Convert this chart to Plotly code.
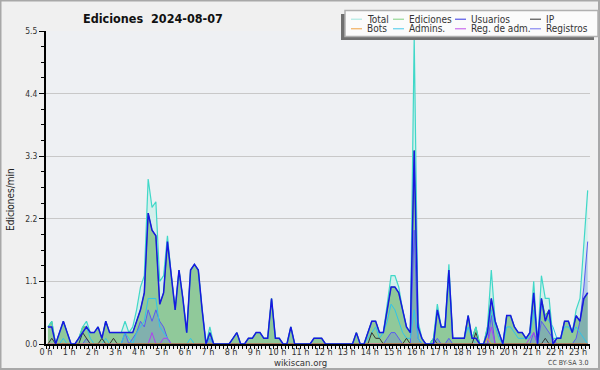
import plotly.graph_objects as go

# ---- data (edits per minute, 10-minute bins, 2024-08-07) ----
hour_labels = [f"{h} h" for h in range(24)]
y_tick_vals = [0, 1.1, 2.2, 3.3, 4.4, 5.5]
y_tick_text = ["0.0", "1.1", "2.2", "3.3", "4.4", "5.5"]

total = [
    0.3, 0.4, 0.0, 0.2, 0.4, 0.2, 0.0, 0.0, 0.1, 0.3,
    0.4, 0.2, 0.2, 0.3, 0.1, 0.4, 0.2, 0.2, 0.2, 0.2,
    0.4, 0.2, 0.3, 0.6, 1.0, 1.2, 2.9, 2.4, 2.5, 1.1,
    1.2, 1.9, 1.2, 0.6, 1.3, 0.8, 0.2, 1.3, 1.4, 1.3,
    0.6, 0.0, 0.3, 0.0, 0.0, 0.0, 0.0, 0.0, 0.1, 0.2,
    0.0, 0.0, 0.1, 0.1, 0.2, 0.2, 0.1, 0.1, 0.8, 0.1,
    0.1, 0.0, 0.0, 0.3, 0.0, 0.0, 0.0, 0.0, 0.0, 0.1,
    0.1, 0.1, 0.0, 0.0, 0.0, 0.0, 0.0, 0.0, 0.0, 0.0,
    0.2, 0.0, 0.0, 0.2, 0.4, 0.4, 0.2, 0.2, 0.7, 1.2,
    1.2, 1.0, 0.6, 0.3, 0.2, 5.4, 0.4, 0.1, 0.0, 0.0,
    0.1, 0.7, 0.3, 0.3, 1.4, 0.1, 0.1, 0.1, 0.1, 0.5,
    0.1, 0.3, 0.0, 0.0, 0.3, 1.3, 0.4, 0.2, 0.0, 0.5,
    0.5, 0.3, 0.2, 0.2, 0.1, 0.2, 1.1, 0.0, 1.2, 0.8,
    0.8, 0.1, 0.1, 0.1, 0.4, 0.4, 0.2, 0.6, 0.8, 1.8, 2.7,
]
ediciones = [
    0.3, 0.4, 0.0, 0.2, 0.4, 0.2, 0.0, 0.0, 0.1, 0.3,
    0.3, 0.2, 0.2, 0.3, 0.1, 0.4, 0.2, 0.2, 0.2, 0.2,
    0.2, 0.2, 0.2, 0.4, 0.6, 0.9, 2.3, 2.0, 1.9, 0.7,
    0.9, 1.8, 1.2, 0.6, 1.3, 0.8, 0.2, 1.3, 1.4, 1.3,
    0.6, 0.0, 0.2, 0.0, 0.0, 0.0, 0.0, 0.0, 0.1, 0.2,
    0.0, 0.0, 0.1, 0.1, 0.2, 0.2, 0.1, 0.1, 0.8, 0.1,
    0.1, 0.0, 0.0, 0.3, 0.0, 0.0, 0.0, 0.0, 0.0, 0.1,
    0.1, 0.1, 0.0, 0.0, 0.0, 0.0, 0.0, 0.0, 0.0, 0.0,
    0.2, 0.0, 0.0, 0.2, 0.4, 0.4, 0.2, 0.2, 0.6, 1.0,
    1.0, 0.9, 0.6, 0.3, 0.2, 3.4, 0.3, 0.1, 0.0, 0.0,
    0.1, 0.6, 0.3, 0.3, 1.3, 0.1, 0.1, 0.1, 0.1, 0.5,
    0.1, 0.3, 0.0, 0.0, 0.3, 0.8, 0.4, 0.2, 0.0, 0.5,
    0.5, 0.3, 0.2, 0.2, 0.1, 0.2, 0.9, 0.0, 0.8, 0.5,
    0.6, 0.0, 0.1, 0.1, 0.4, 0.4, 0.2, 0.5, 0.4, 0.8, 0.9,
]
usuarios = [
    0.3, 0.3, 0.0, 0.2, 0.4, 0.2, 0.0, 0.0, 0.1, 0.2,
    0.3, 0.2, 0.2, 0.3, 0.1, 0.4, 0.2, 0.2, 0.2, 0.2,
    0.2, 0.2, 0.2, 0.4, 0.6, 0.9, 2.3, 2.0, 1.9, 0.7,
    0.9, 1.8, 1.2, 0.6, 1.3, 0.8, 0.2, 1.3, 1.4, 1.3,
    0.6, 0.0, 0.2, 0.0, 0.0, 0.0, 0.0, 0.0, 0.1, 0.2,
    0.0, 0.0, 0.1, 0.1, 0.2, 0.2, 0.1, 0.1, 0.8, 0.1,
    0.1, 0.0, 0.0, 0.3, 0.0, 0.0, 0.0, 0.0, 0.0, 0.1,
    0.1, 0.1, 0.0, 0.0, 0.0, 0.0, 0.0, 0.0, 0.0, 0.0,
    0.2, 0.0, 0.0, 0.2, 0.4, 0.4, 0.2, 0.2, 0.6, 1.0,
    1.0, 0.9, 0.6, 0.3, 0.2, 3.4, 0.3, 0.1, 0.0, 0.0,
    0.0, 0.6, 0.3, 0.3, 1.3, 0.1, 0.1, 0.1, 0.1, 0.5,
    0.1, 0.1, 0.0, 0.0, 0.2, 0.8, 0.4, 0.2, 0.0, 0.5,
    0.5, 0.3, 0.2, 0.2, 0.1, 0.2, 0.9, 0.0, 0.8, 0.4,
    0.6, 0.0, 0.1, 0.1, 0.4, 0.4, 0.2, 0.5, 0.4, 0.8, 0.9,
]
ip = [
    0.0, 0.1, 0.0, 0.0, 0.0, 0.0, 0.0, 0.0, 0.0, 0.2,
    0.1, 0.0, 0.0, 0.0, 0.1, 0.0, 0.0, 0.1, 0.0, 0.0,
    0.0, 0.0, 0.0, 0.0, 0.0, 0.0, 0.0, 0.0, 0.0, 0.0,
    0.0, 0.0, 0.0, 0.0, 0.0, 0.0, 0.0, 0.0, 0.0, 0.0,
    0.0, 0.0, 0.0, 0.0, 0.0, 0.0, 0.0, 0.0, 0.0, 0.0,
    0.0, 0.0, 0.0, 0.0, 0.0, 0.0, 0.0, 0.0, 0.0, 0.0,
    0.0, 0.0, 0.0, 0.0, 0.0, 0.0, 0.0, 0.0, 0.0, 0.0,
    0.0, 0.0, 0.0, 0.0, 0.0, 0.0, 0.0, 0.0, 0.0, 0.0,
    0.0, 0.0, 0.0, 0.0, 0.2, 0.1, 0.1, 0.0, 0.0, 0.0,
    0.0, 0.0, 0.0, 0.1, 0.0, 0.0, 0.0, 0.0, 0.0, 0.0,
    0.1, 0.0, 0.0, 0.0, 0.0, 0.0, 0.0, 0.0, 0.0, 0.0,
    0.0, 0.2, 0.0, 0.0, 0.0, 0.0, 0.0, 0.0, 0.0, 0.0,
    0.0, 0.0, 0.0, 0.0, 0.0, 0.0, 0.0, 0.0, 0.0, 0.1,
    0.0, 0.0, 0.0, 0.0, 0.0, 0.0, 0.0, 0.0, 0.0, 0.0, 0.0,
]
bots = [0.0] * 114 + [0.1] + [0.0] * 26
admins = [
    0.0, 0.0, 0.0, 0.0, 0.1, 0.0, 0.0, 0.0, 0.0, 0.2,
    0.3, 0.1, 0.0, 0.0, 0.0, 0.1, 0.0, 0.0, 0.0, 0.0,
    0.2, 0.1, 0.0, 0.2, 0.3, 0.4, 0.8, 0.8, 0.8, 0.3,
    0.2, 0.1, 0.0, 0.0, 0.0, 0.0, 0.0, 0.1, 0.0, 0.0,
    0.0, 0.0, 0.1, 0.0, 0.0, 0.0, 0.0, 0.0, 0.0, 0.0,
    0.0, 0.0, 0.0, 0.0, 0.0, 0.0, 0.0, 0.0, 0.0, 0.0,
    0.0, 0.0, 0.0, 0.0, 0.0, 0.0, 0.0, 0.0, 0.0, 0.0,
    0.0, 0.0, 0.0, 0.0, 0.0, 0.0, 0.0, 0.0, 0.0, 0.0,
    0.0, 0.0, 0.0, 0.1, 0.2, 0.3, 0.1, 0.2, 0.4, 0.7,
    0.6, 0.4, 0.2, 0.1, 0.1, 0.6, 0.1, 0.0, 0.0, 0.0,
    0.0, 0.6, 0.3, 0.3, 1.2, 0.1, 0.1, 0.1, 0.1, 0.3,
    0.1, 0.0, 0.0, 0.0, 0.2, 0.6, 0.3, 0.1, 0.0, 0.3,
    0.3, 0.2, 0.1, 0.1, 0.1, 0.1, 0.6, 0.0, 0.7, 0.5,
    0.4, 0.3, 0.1, 0.1, 0.3, 0.3, 0.2, 0.3, 0.2, 0.1, 0.0,
]
reg_adm = [
    0.0, 0.0, 0.0, 0.0, 0.0, 0.0, 0.0, 0.0, 0.0, 0.0,
    0.0, 0.0, 0.0, 0.0, 0.0, 0.0, 0.0, 0.0, 0.0, 0.0,
    0.0, 0.0, 0.0, 0.0, 0.0, 0.0, 0.0, 0.2, 0.0, 0.0,
    0.1, 0.1, 0.0, 0.0, 0.0, 0.0, 0.0, 0.0, 0.0, 0.0,
] + [0.0] * 75 + [0.3] + [0.0] * 9 + [0.1, 0.2] + [0.0] * 14
registros = [
    0.0, 0.0, 0.0, 0.0, 0.0, 0.0, 0.0, 0.0, 0.0, 0.0,
    0.1, 0.0, 0.0, 0.0, 0.0, 0.0, 0.0, 0.0, 0.0, 0.0,
    0.2, 0.0, 0.1, 0.2, 0.4, 0.3, 0.6, 0.4, 0.6, 0.4,
    0.3, 0.1, 0.0, 0.0, 0.0, 0.0, 0.0, 0.0, 0.0, 0.0,
    0.0, 0.0, 0.1, 0.0, 0.0, 0.0, 0.0, 0.0, 0.0, 0.0,
    0.0, 0.0, 0.0, 0.0, 0.0, 0.0, 0.0, 0.0, 0.0, 0.0,
    0.0, 0.0, 0.0, 0.0, 0.0, 0.0, 0.0, 0.0, 0.0, 0.0,
    0.0, 0.0, 0.0, 0.0, 0.0, 0.0, 0.0, 0.0, 0.0, 0.0,
    0.0, 0.0, 0.0, 0.0, 0.0, 0.0, 0.0, 0.0, 0.1, 0.2,
    0.2, 0.1, 0.0, 0.0, 0.0, 2.0, 0.1, 0.0, 0.0, 0.0,
    0.0, 0.1, 0.0, 0.0, 0.1, 0.0, 0.0, 0.0, 0.0, 0.0,
    0.0, 0.0, 0.0, 0.0, 0.0, 0.5, 0.0, 0.0, 0.0, 0.0,
    0.0, 0.0, 0.0, 0.0, 0.0, 0.0, 0.2, 0.0, 0.4, 0.3,
    0.2, 0.1, 0.0, 0.0, 0.0, 0.0, 0.0, 0.1, 0.4, 1.0, 1.8,
]

# time of each 10-minute bin (centre, minutes since midnight)
minutes = [i * 10 + 5 for i in range(len(total))]

FONT = "DejaVu Sans Condensed, DejaVu Sans"

# pixel -> paper helpers (plot area: x 46..590, y 31..344)
L, R, T, B = 46, 590, 31, 344
def px(x):
    return (x - L) / (R - L)
def py(y):
    return (B - y) / (B - T)

fig = go.Figure()

fig.add_trace(go.Scatter(x=minutes, y=total, mode="lines", fill="tozeroy",
                         fillcolor="#d4efec", line=dict(width=0), showlegend=False))
fig.add_trace(go.Scatter(x=minutes, y=ediciones, mode="lines", fill="tozeroy",
                         fillcolor="#90c99a", line=dict(color="#40b048", width=1),
                         showlegend=False))
fig.add_trace(go.Scatter(x=minutes, y=registros, mode="lines", fill="tozeroy",
                         fillcolor="rgba(90,110,225,0.28)",
                         line=dict(color="#5a5af0", width=1), showlegend=False))
fig.add_trace(go.Scatter(x=minutes, y=admins, mode="lines",
                         line=dict(color="#30c4ea", width=1), showlegend=False))
fig.add_trace(go.Scatter(x=minutes, y=reg_adm, mode="lines",
                         line=dict(color="#b040f0", width=1), showlegend=False))
fig.add_trace(go.Scatter(x=minutes, y=ip, mode="lines",
                         line=dict(color="#333333", width=1), showlegend=False))
fig.add_trace(go.Scatter(x=minutes, y=bots, mode="lines",
                         line=dict(color="#f0a030", width=1), showlegend=False))
fig.add_trace(go.Scatter(x=minutes, y=total, mode="lines",
                         line=dict(color="#40d8c8", width=1.2), showlegend=False))
fig.add_trace(go.Scatter(x=minutes, y=usuarios, mode="lines",
                         line=dict(color="#1818e0", width=1.5), showlegend=False))

fig.update_layout(
    width=600, height=370,
    margin=dict(l=L, r=600 - R, t=T, b=370 - B, autoexpand=False),
    paper_bgcolor="#f0f0f0", plot_bgcolor="#eef0f3",
    font=dict(family=FONT, size=9, color="#333333"),
    showlegend=False,
)
fig.update_xaxes(
    range=[0, 1411], tickvals=[h * 60 for h in range(24)], ticktext=hour_labels,
    ticks="outside", ticklen=3, tickcolor="black", tickwidth=1,
    minor=dict(dtick=10, tick0=0, ticks="outside", ticklen=3, tickcolor="black"),
    showline=True, linecolor="black", linewidth=2, showgrid=False, zeroline=False,
    tickfont=dict(family=FONT, size=9, color="#333333"), fixedrange=True,
    automargin=False, ticklabelstandoff=-5,
)
fig.update_yaxes(
    range=[0, 5.5], tickvals=y_tick_vals, ticktext=y_tick_text,
    ticks="outside", ticklen=5, tickcolor="black", tickwidth=1,
    minor=dict(dtick=0.275, tick0=0, ticks="outside", ticklen=3, tickcolor="black",
               showgrid=False),
    showline=True, linecolor="black", linewidth=2, showgrid=True,
    gridcolor="#c8c8c8", gridwidth=1, zeroline=False,
    tickfont=dict(family=FONT, size=8.5, color="#333333"), fixedrange=True,
    automargin=False,
)

shapes = []
annotations = []
# outer frame
shapes.append(dict(type="rect", xref="paper", yref="paper",
                   x0=px(0.5), x1=px(599), y0=py(369), y1=py(0.5),
                   line=dict(color="#a8a8a8", width=2), layer="above"))
# legend box with shadow
shapes.append(dict(type="rect", xref="paper", yref="paper",
                   x0=px(341), x1=px(594), y0=py(40), y1=py(14),
                   fillcolor="#707070", line=dict(width=0), layer="above"))
shapes.append(dict(type="rect", xref="paper", yref="paper",
                   x0=px(345), x1=px(598), y0=py(36.5), y1=py(10.5),
                   fillcolor="#fbfbfb", line=dict(color="#b0b0b0", width=1.5),
                   layer="above"))

legend_names = ["Total", "Ediciones", "Usuarios", "IP",
                "Bots", "Admins.", "Reg. de adm.", "Registros"]
legend_colors = ["#9ee6de", "#80d080", "#3434e4", "#333333",
                 "#f0a040", "#44c8ea", "#c050ea", "#7474f0"]
col_text_x = [366, 408, 470, 545]
row_y = [19.2, 28.8]
for k, (name, col) in enumerate(zip(legend_names, legend_colors)):
    r, c = divmod(k, 4)
    tx = col_text_x[c]
    yy = row_y[r]
    shapes.append(dict(type="line", xref="paper", yref="paper",
                       x0=px(tx - 15), x1=px(tx - 4), y0=py(yy), y1=py(yy),
                       line=dict(color=col, width=1), layer="above"))
    annotations.append(dict(xref="paper", yref="paper", x=px(tx), y=py(yy),
                            text=name, showarrow=False, xanchor="left",
                            yanchor="middle", borderpad=0,
                            font=dict(family=FONT, size=10, color="#333333")))

annotations.append(dict(xref="paper", yref="paper", x=px(153), y=py(18),
                        text="<b>Ediciones  2024-08-07</b>", showarrow=False,
                        xanchor="center", yanchor="middle",
                        font=dict(family=FONT, size=12.5, color="#111111")))
annotations.append(dict(xref="paper", yref="paper", x=px(10), y=py(200),
                        text="Ediciones/min", showarrow=False, textangle=-90,
                        xanchor="center", yanchor="middle",
                        font=dict(family=FONT, size=10, color="#222222")))
annotations.append(dict(xref="paper", yref="paper", x=px(300), y=py(362),
                        text="wikiscan.org", showarrow=False,
                        xanchor="center", yanchor="middle",
                        font=dict(family=FONT, size=9.5, color="#333333")))
annotations.append(dict(xref="paper", yref="paper", x=px(590), y=py(362.5),
                        text="CC BY-SA 3.0", showarrow=False,
                        xanchor="right", yanchor="middle",
                        font=dict(family=FONT, size=7, color="#444444")))

fig.update_layout(shapes=shapes, annotations=annotations)
fig.write_html("out.html",
               config={"displayModeBar": False, "staticPlot": True},
               post_script="document.body.style.margin='0px';"
                           "document.body.style.overflow='hidden';")
